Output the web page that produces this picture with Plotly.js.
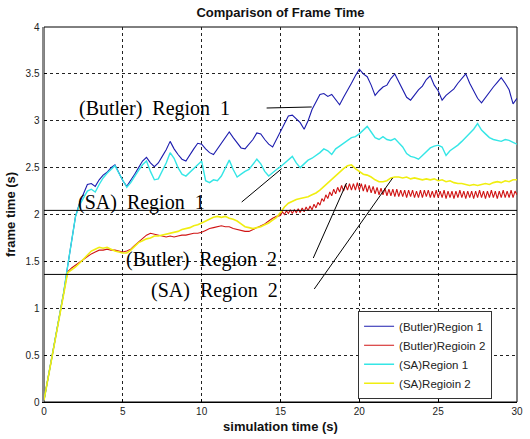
<!DOCTYPE html>
<html>
<head>
<meta charset="utf-8">
<script src="https://cdn.plot.ly/plotly-3.0.1.min.js"></script>
<style>
html,body{margin:0;padding:0;background:#fff;}
#chart{width:530px;height:439px;}
</style>
</head>
<body>
<div id="chart"></div>
<script>
// ---- data ----
const T = [
 0,0.25,0.5,0.75, 1,1.25,1.5,1.75, 2,2.25,2.5,2.75, 3,3.25,3.5,3.75,
 4,4.25,4.5,4.75, 5,5.25,5.5,5.75, 6,6.25,6.5,6.75, 7,7.25,7.5,7.75,
 8,8.25,8.5,8.75, 9,9.25,9.5,9.75, 10,10.25,10.5,10.75, 11,11.25,11.5,11.75,
 12,12.25,12.5,12.75, 13,13.25,13.5,13.75, 14,14.25,14.5,14.75, 15,15.25,15.5,15.75,
 16,16.25,16.5,16.75, 17,17.25,17.5,17.75, 18,18.25,18.5,18.75, 19,19.25,19.5,19.75,
 20,20.25,20.5,20.75, 21,21.25,21.5,21.75, 22,22.25,22.5,22.75, 23,23.25,23.5,23.75,
 24,24.25,24.5,24.75, 25,25.25,25.5,25.75, 26,26.25,26.5,26.75, 27,27.25,27.5,27.75,
 28,28.25,28.5,28.75, 29,29.25,29.5,29.75, 30
];

const butlerRegion1 = [
 0.02,0.25,0.48,0.71, 0.94,1.17,1.45,1.72, 1.98,2.12,2.22,2.32, 2.33,2.30,2.37,2.42,
 2.45,2.50,2.53,2.44, 2.36,2.30,2.36,2.43, 2.50,2.57,2.61,2.55, 2.51,2.55,2.62,2.69,
 2.78,2.70,2.64,2.59, 2.57,2.64,2.70,2.76, 2.75,2.70,2.66,2.64, 2.70,2.76,2.83,2.88,
 2.82,2.76,2.71,2.70, 2.75,2.80,2.87,2.86, 2.80,2.75,2.72,2.80, 2.88,2.96,3.05,3.06,
 3.02,2.98,2.91,3.00, 3.12,3.20,3.28,3.29, 3.26,3.28,3.22,3.17, 3.25,3.32,3.40,3.48,
 3.55,3.50,3.47,3.38, 3.27,3.32,3.36,3.38, 3.45,3.50,3.42,3.34, 3.25,3.22,3.28,3.33,
 3.37,3.44,3.48,3.38, 3.32,3.22,3.27,3.31, 3.34,3.40,3.45,3.50, 3.40,3.32,3.24,3.19,
 3.25,3.30,3.36,3.41, 3.46,3.40,3.33,3.18, 3.24
];

const saRegion1 = [
 0.02,0.25,0.48,0.71, 0.94,1.17,1.45,1.72, 1.98,2.10,2.17,2.25, 2.27,2.24,2.32,2.39,
 2.44,2.48,2.52,2.44, 2.36,2.29,2.34,2.41, 2.47,2.53,2.57,2.46, 2.37,2.38,2.46,2.55,
 2.66,2.60,2.50,2.43, 2.41,2.45,2.49,2.53, 2.57,2.36,2.34,2.37, 2.36,2.41,2.49,2.58,
 2.48,2.40,2.43,2.46, 2.48,2.53,2.59,2.54, 2.46,2.41,2.45,2.48, 2.51,2.55,2.59,2.62,
 2.55,2.50,2.54,2.58, 2.60,2.63,2.66,2.70, 2.68,2.64,2.70,2.73, 2.76,2.79,2.82,2.83,
 2.86,2.90,2.94,2.88, 2.82,2.80,2.83,2.80, 2.79,2.81,2.76,2.72, 2.65,2.62,2.61,2.59,
 2.63,2.67,2.71,2.73, 2.74,2.72,2.63,2.68, 2.71,2.74,2.78,2.82, 2.86,2.91,2.97,2.90,
 2.86,2.82,2.80,2.79, 2.78,2.80,2.79,2.77, 2.75
];

const saRegion2 = [
 0.02,0.25,0.48,0.71, 0.94,1.17,1.38,1.41, 1.44,1.48,1.52,1.57, 1.61,1.63,1.65,1.64,
 1.65,1.63,1.61,1.60, 1.59,1.59,1.62,1.66, 1.70,1.72,1.74,1.75, 1.77,1.77,1.78,1.79,
 1.80,1.81,1.82,1.84, 1.85,1.86,1.88,1.89, 1.91,1.93,1.95,1.97, 1.98,1.97,1.98,1.96,
 1.95,1.93,1.90,1.87, 1.86,1.85,1.86,1.87, 1.89,1.91,1.94,1.97, 2.02,2.08,2.12,2.14,
 2.16,2.17,2.18,2.19, 2.21,2.23,2.26,2.30, 2.34,2.38,2.42,2.46, 2.49,2.52,2.53,2.49,
 2.46,2.43,2.42,2.40, 2.37,2.35,2.35,2.36, 2.39,2.40,2.40,2.39, 2.40,2.38,2.39,2.38,
 2.37,2.38,2.37,2.38, 2.36,2.37,2.35,2.36, 2.34,2.33,2.33,2.32, 2.31,2.32,2.31,2.32,
 2.33,2.32,2.34,2.35, 2.34,2.36,2.35,2.37, 2.37
];

// Butler Region 2: 0..14.75 on the 0.25 grid, then 15..30 on a finer grid
const butlerRegion2Head = [
 0.02,0.25,0.48,0.71, 0.94,1.17,1.39,1.43, 1.46,1.49,1.52,1.55, 1.58,1.60,1.62,1.62,
 1.63,1.62,1.62,1.61, 1.60,1.61,1.63,1.67, 1.71,1.75,1.78,1.80, 1.79,1.78,1.77,1.76,
 1.77,1.76,1.77,1.78, 1.78,1.79,1.80,1.80, 1.81,1.83,1.85,1.86, 1.87,1.88,1.87,1.87,
 1.85,1.84,1.83,1.82, 1.82,1.84,1.86,1.88, 1.90,1.93,1.96,1.98
];
const T_fine = [
 15,15.125,15.25,15.375,15.5,15.625,15.75,15.875, 16,16.125,16.25,16.375,16.5,16.625,16.75,16.875,
 17,17.125,17.25,17.375,17.5,17.625,17.75,17.875, 18,18.125,18.25,18.375,18.5,18.625,18.75,18.875,
 19,19.125,19.25,19.375,19.5,19.625,19.75,19.875, 20,20.125,20.25,20.375,20.5,20.625,20.75,20.875,
 21,21.125,21.25,21.375,21.5,21.625,21.75,21.875, 22,22.125,22.25,22.375,22.5,22.625,22.75,22.875,
 23,23.125,23.25,23.375,23.5,23.625,23.75,23.875, 24,24.125,24.25,24.375,24.5,24.625,24.75,24.875,
 25,25.125,25.25,25.375,25.5,25.625,25.75,25.875, 26,26.125,26.25,26.375,26.5,26.625,26.75,26.875,
 27,27.125,27.25,27.375,27.5,27.625,27.75,27.875, 28,28.125,28.25,28.375,28.5,28.625,28.75,28.875,
 29,29.125,29.25,29.375,29.5,29.625,29.75,29.875, 30
];
const butlerRegion2Tail = [
 1.99,2.03,2.00,2.04,2.01,2.05,2.01,2.05, 2.02,2.06,2.02,2.07,2.03,2.08,2.04,2.09,
 2.05,2.11,2.07,2.13,2.10,2.17,2.14,2.21, 2.17,2.24,2.20,2.27,2.22,2.29,2.24,2.31,
 2.25,2.32,2.26,2.33,2.26,2.33,2.26,2.34, 2.26,2.33,2.25,2.32,2.24,2.31,2.23,2.30,
 2.22,2.29,2.21,2.28,2.21,2.28,2.20,2.27, 2.20,2.27,2.19,2.27,2.19,2.26,2.19,2.26,
 2.18,2.26,2.19,2.26,2.18,2.25,2.18,2.26, 2.18,2.26,2.19,2.26,2.18,2.25,2.18,2.26,
 2.18,2.25,2.18,2.26,2.17,2.25,2.18,2.25, 2.17,2.25,2.18,2.26,2.18,2.25,2.17,2.25,
 2.18,2.25,2.17,2.25,2.18,2.26,2.18,2.25, 2.17,2.25,2.18,2.26,2.18,2.25,2.17,2.25,
 2.18,2.26,2.18,2.25,2.18,2.26,2.18,2.25, 2.21
];

const seriesNames = ['(Butler)Region 1','(Butler)Regioin 2','(SA)Region 1','(SA)Regioin 2'];
const seriesColors = ['#1c1cae','#d01414','#35e6e6','#f0ee10'];

// reference levels (horizontal black lines)
const refLevels = [2.044, 1.361];
// pointer lines: [x0, y0, x1, y1]
const pointerX0 = [14.12, 12.54, 17.08, 17.14];
const pointerY0 = [3.136, 2.133, 1.536, 1.205];
const pointerX1 = [16.98, 15.07, 19.19, 22.11];
const pointerY1 = [3.147, 2.488, 2.336, 2.389];
// labels
const labelText = ['(Butler)\u00a0 Region\u00a0 1','(SA)\u00a0 Region\u00a0 1','(Butler)\u00a0 Region\u00a0 2','(SA)\u00a0 Region\u00a0 2'];
const labelX = [7.01, 6.18, 10.0, 10.84];
const labelY = [3.13, 2.13, 1.515, 1.19];

const xTicks = [0,5,10,15,20,25,30];
const yTicks = [0,0.5,1,1.5,2,2.5,3,3.5,4];
const yTickText = ['0','0.5','1','1.5','2','2.5','3','3.5','4'];

// ---- build ----
const redX = T.slice(0, butlerRegion2Head.length).concat(T_fine);
const redY = butlerRegion2Head.concat(butlerRegion2Tail);

const traces = [
  {x:T, y:butlerRegion1, name:seriesNames[0], line:{color:seriesColors[0], width:1.1}},
  {x:redX, y:redY, name:seriesNames[1], line:{color:seriesColors[1], width:1.1}},
  {x:T, y:saRegion1, name:seriesNames[2], line:{color:seriesColors[2], width:1.4}},
  {x:T, y:saRegion2, name:seriesNames[3], line:{color:seriesColors[3], width:1.6}}
].map(t => Object.assign({type:'scatter', mode:'lines'}, t));

const shapes = [
  {type:'rect', xref:'paper', yref:'paper', x0:0, x1:1, y0:0, y1:1,
   line:{color:'#000', width:1}, layer:'below'}
];
refLevels.forEach(v => shapes.push({type:'line', xref:'x', yref:'y', x0:0, x1:30, y0:v, y1:v,
  line:{color:'#000', width:1}}));
pointerX0.forEach((x, i) => shapes.push({type:'line', xref:'x', yref:'y',
  x0:x, y0:pointerY0[i], x1:pointerX1[i], y1:pointerY1[i], line:{color:'#000', width:1}}));

const annotations = labelText.map((t, i) => ({
  text:t, x:labelX[i], y:labelY[i], xref:'x', yref:'y', showarrow:false,
  xanchor:'center', yanchor:'middle',
  font:{family:'Liberation Serif, Times New Roman, serif', size:20, color:'#000'}
}));

const tickFont = {family:'Liberation Sans, Arial, sans-serif', size:10, color:'#222'};
const titleFont = {family:'Liberation Sans, Arial, sans-serif', size:13, color:'#111'};
const layout = {
  width:530, height:439,
  margin:{l:44, r:13, t:27, b:37},
  paper_bgcolor:'#fff', plot_bgcolor:'#fff',
  title:{text:'<b>Comparison of Frame Time</b>', x:0.5, xref:'paper', y:0.971, yref:'container',
         xanchor:'center', yanchor:'middle', font:titleFont},
  xaxis:{range:[0,30], tickvals:xTicks, ticktext:xTicks.map(String), showgrid:true,
         gridcolor:'#222', griddash:'dot', gridwidth:1, zeroline:false,
         showline:true, linecolor:'#000', linewidth:1, ticks:'inside', ticklen:3, tickcolor:'#000',
         tickfont:tickFont,
         title:{text:'<b>simulation time (s)</b>', standoff:5, font:titleFont}},
  yaxis:{range:[0,4], tickvals:yTicks, ticktext:yTickText, showgrid:true,
         gridcolor:'#222', griddash:'dot', gridwidth:1, zeroline:false,
         showline:true, linecolor:'#8a8a8a', linewidth:2.5, ticks:'inside', ticklen:3, tickcolor:'#000',
         tickfont:tickFont,
         title:{text:'<b>frame time (s)</b>', standoff:7, font:titleFont}},
  showlegend:true,
  legend:{x:0.664, y:0.2435, xanchor:'left', yanchor:'top', bgcolor:'#fff',
          bordercolor:'#333', borderwidth:1,
          font:{family:'Liberation Sans, Arial, sans-serif', size:11.5, color:'#222'}},
  shapes:shapes,
  annotations:annotations
};

Plotly.newPlot('chart', traces, layout, {staticPlot:true, displayModeBar:false});
</script>
</body>
</html>
